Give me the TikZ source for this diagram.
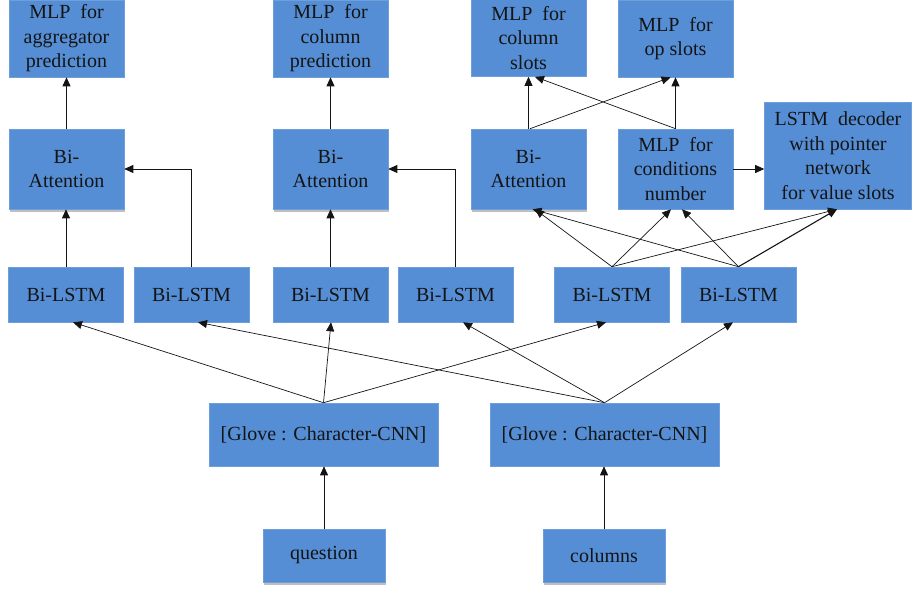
\documentclass[tikz,border=0pt]{standalone}
\usepackage{fontspec}
\setmainfont{Liberation Serif}
\newfontfamily\boxfont{Liberation Serif}
\usetikzlibrary{arrows.meta,calc,shadows}
\definecolor{boxblue}{RGB}{85,142,213}
\definecolor{ink}{RGB}{20,20,20}
\begin{document}
\begin{tikzpicture}[x=1pt,y=-1pt,
  box/.style={rectangle, fill=boxblue, draw=boxblue!85!white, line width=0.6pt,
    inner sep=0pt, align=center, text=ink, font=\boxfont\fontsize{20}{24.5}\selectfont},
  shad/.style={drop shadow={shadow xshift=1pt, shadow yshift=-2.5pt, opacity=0.25, fill=black}},
  mlp/.style={box, minimum width=115pt, minimum height=77pt},
  att/.style={box, shad, minimum width=115pt, minimum height=80pt},
  lstm/.style={box, minimum width=115pt, minimum height=55pt},
  emb/.style={box, minimum width=229pt, minimum height=63pt},
  inp/.style={box, shad, minimum width=122pt, minimum height=53pt},
  conn/.style={draw=ink, line width=0.7pt, -{Triangle[length=9pt,width=8pt]}},
]
\useasboundingbox (0,0) rectangle (912,591);

% top row
\node[mlp] (agg) at (66.5,38.5) {MLP\ \ for\\aggregator\\prediction};
\node[mlp] (colpred) at (330.5,38.5) {MLP\ \ for\\column\\prediction};
\node[mlp] (colslots) at (528.5,38) {MLP\ \ for\\column\\slots};
\node[mlp] (opslots) at (675.5,38.5) {MLP\ \ for\\op slots};

% attention row
\node[att] (att1) at (66.5,169) {Bi-\\Attention};
\node[att] (att2) at (330.5,169) {Bi-\\Attention};
\node[att] (att3) at (528.5,169) {Bi-\\Attention};
\node[box, minimum width=115pt, minimum height=80pt] (cond) at (675.5,169) {MLP\ \ for\\conditions\\number};
\node[box, minimum width=147pt, minimum height=107pt] (dec) at (838,155.5) {LSTM\ \ decoder\\with pointer\\network\\for value slots};

% Bi-LSTM row
\node[lstm] (lstm1) at (66,294.5) {Bi-LSTM};
\node[lstm] (lstm2) at (191.5,294.5) {Bi-LSTM};
\node[lstm] (lstm3) at (330.5,294.5) {Bi-LSTM};
\node[lstm] (lstm4) at (455.5,294.5) {Bi-LSTM};
\node[lstm] (lstm5) at (612,294.5) {Bi-LSTM};
\node[lstm] (lstm6) at (738.5,294.5) {Bi-LSTM};

% embeddings
\node[emb] (glove1) at (323.5,434.5) {[Glove : Character-CNN]};
\node[emb] (glove2) at (604.5,434.5) {[Glove : Character-CNN]};

% inputs
\node[inp] (question) at (324,555.5) {question};
\node[inp] (columns) at (604,555.5) {columns};

% input -> embedding
\draw[conn] (question.north) -- (question.north |- glove1.south);
\draw[conn] (columns.north) -- (columns.north |- glove2.south);

% embedding -> Bi-LSTM
\draw[conn] (glove1.north) -- ([xshift=7pt]lstm1.south);
\draw[conn] (glove1.north) -- ([xshift=0.5pt]lstm3.south);
\draw[conn] (glove1.north) -- ([xshift=-6pt]lstm5.south);
\draw[conn] (glove2.north) -- ([xshift=6.5pt]lstm2.south);
\draw[conn] (glove2.north) -- ([xshift=7.5pt]lstm4.south);
\draw[conn] (glove2.north) -- ([xshift=-5.5pt]lstm6.south);

% Bi-LSTM -> attention
\draw[conn] (lstm1.north) -- (lstm1.north |- att1.south);
\draw[conn] (lstm2.north) |- (att1.east);
\draw[conn] (lstm3.north) -- (lstm3.north |- att2.south);
\draw[conn] (lstm4.north) |- (att2.east);

\draw[conn] (lstm5.north) -- ([xshift=6.5pt]att3.south);
\draw[conn] (lstm5.north) -- ([xshift=-4.5pt]cond.south);
\draw[conn] (lstm5.north) -- ([xshift=-1pt]dec.south);
\draw[conn] (lstm6.north) -- ([xshift=4pt]att3.south);
\draw[conn] (lstm6.north) -- ([xshift=6.5pt]cond.south);
\draw[conn, line width=1.1pt] (lstm6.north) -- ([xshift=-1pt]dec.south);

% attention -> MLPs
\draw[conn] (att1.north) -- (agg.south);
\draw[conn] (att2.north) -- (colpred.south);
\draw[conn] (att3.north) -- (colslots.south);
\draw[conn] ([xshift=1.5pt]att3.north) -- ([xshift=-5pt]opslots.south);
\draw[conn] (cond.north) -- (opslots.south);
\draw[conn] (cond.north) -- ([xshift=6.5pt]colslots.south);
\draw[conn] (cond.east) -- (cond.east -| dec.west);
\end{tikzpicture}
\end{document}
